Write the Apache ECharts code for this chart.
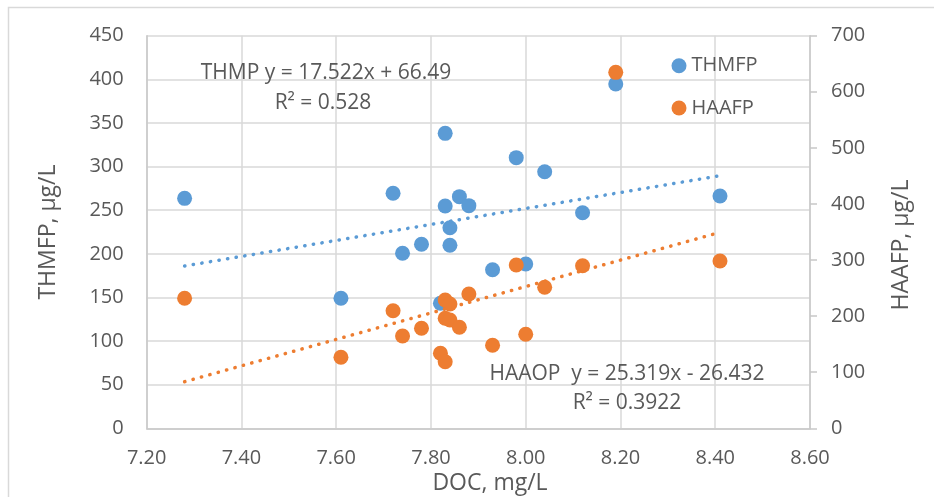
<!DOCTYPE html>
<html>
<head>
<meta charset="utf-8">
<script src="https://cdn.jsdelivr.net/npm/echarts@6/dist/echarts.min.js"></script>
<style>html,body{margin:0;padding:0;background:#fff;}#c{width:934px;height:497px;}</style>
</head>
<body>
<div id="c"></div>
<script>
// DOC (mg/L) values of THMFP samples and their THMFP (µg/L)
const thmX = [7.28,7.72,7.83,7.83,7.86,7.88,7.84,7.78,7.84,7.74,7.61,7.82,8.19,7.98,8.04,8.41,8.12,7.93,8.00];
const thmY = [263.6,269.4,338.1,254.8,265.5,255.2,229.9,210.9,209.8,200.6,149,143.3,394.7,310.2,294.1,266.3,247.1,181.8,188.3];
// DOC values of HAAFP samples and their HAAFP (µg/L)
const haaX = [7.28,7.72,7.74,7.78,7.61,7.83,7.84,7.83,7.84,7.86,7.82,7.83,7.88,8.19,7.98,8.12,8.41,8.04,7.93,8.00];
const haaY = [231.8,209.7,164.6,178.3,126.6,228.7,221.6,196.1,193.1,180.1,133.7,118.7,239.4,634.7,291.1,289.9,298.3,251.4,148,167.6];
// trend line end points
const thmTrendX = [7.28, 8.41];
const thmTrendY = [186, 289.5];
const haaTrendX = [7.28, 8.41];
const haaTrendY = [83.1, 349.4];
const seriesNames = ['THMFP', 'HAAFP'];
const thmEq = ['THMP y = 17.522x + 66.49', 'R² = 0.528'];
const haaEq = ['HAAOP  y = 25.319x - 26.432', 'R² = 0.3922'];
const axisNames = ['DOC, mg/L', 'THMFP, μg/L', 'HAAFP, μg/L'];

const zip = (a, b) => a.map((v, i) => [v, b[i]]);
const BLUE = '#5B9BD5', ORANGE = '#ED7D31', TXT = '#595959', FONT = 'Open Sans';
const chart = echarts.init(document.getElementById('c'));
const txt = (t, x, y, size, rot) => ({
  type: 'text', x: x, y: y, rotation: rot || 0, z: 100,
  style: { text: t, fill: TXT, font: size + 'px "' + FONT + '"', textAlign: 'center', textVerticalAlign: 'middle' }
});
chart.setOption({
  animation: false,
  backgroundColor: '#fff',
  grid: { left: 146.7, right: 124, top: 35.7, bottom: 68.7 },
  legend: {
    data: seriesNames, orient: 'vertical', left: 671.5, top: 55.7, padding: 0,
    itemWidth: 15, itemHeight: 15, itemGap: 22.3,
    icon: 'circle',
    textStyle: { color: TXT, fontSize: 20, fontFamily: FONT, lineHeight: 20, padding: [0, 0, 0, 0] }
  },
  xAxis: {
    type: 'value', min: 7.2, max: 8.6, interval: 0.2,
    axisLine: { show: true, lineStyle: { color: '#c8c8c8', width: 1.5 } },
    axisTick: { show: false },
    splitLine: { show: true, lineStyle: { color: '#d9d9d9', width: 1.5 } },
    axisLabel: { color: TXT, fontSize: 20, fontFamily: FONT, margin: 20, formatter: v => v.toFixed(2) }
  },
  yAxis: [{
    type: 'value', min: 0, max: 450, interval: 50, position: 'left',
    axisLine: { show: true, lineStyle: { color: '#c8c8c8', width: 1.5 } },
    axisTick: { show: false },
    splitLine: { show: true, lineStyle: { color: '#d9d9d9', width: 1.5 } },
    axisLabel: { color: TXT, fontSize: 20, fontFamily: FONT, margin: 23 }
  }, {
    type: 'value', min: 0, max: 700, interval: 100, position: 'right',
    axisLine: { show: true, lineStyle: { color: '#c8c8c8', width: 1.5 } },
    axisTick: { show: true, length: 7, lineStyle: { color: '#c8c8c8', width: 1.5 } },
    splitLine: { show: false },
    axisLabel: { color: TXT, fontSize: 20, fontFamily: FONT, margin: 21 }
  }],
  series: [{
    name: seriesNames[0], type: 'scatter', yAxisIndex: 0, symbolSize: 15,
    itemStyle: { color: BLUE, opacity: 1 }, data: zip(thmX, thmY), z: 3
  }, {
    name: seriesNames[1], type: 'scatter', yAxisIndex: 1, symbolSize: 15,
    itemStyle: { color: ORANGE, opacity: 1 }, data: zip(haaX, haaY), z: 4
  }, {
    name: 'thmTrend', type: 'line', yAxisIndex: 0, showSymbol: false, symbol: 'none', z: 5,
    lineStyle: { color: BLUE, width: 3.5, type: [0.3, 8.4], cap: 'round' },
    data: zip(thmTrendX, thmTrendY), silent: true
  }, {
    name: 'haaTrend', type: 'line', yAxisIndex: 1, showSymbol: false, symbol: 'none', z: 5,
    lineStyle: { color: ORANGE, width: 3.5, type: [0.3, 8.4], cap: 'round' },
    data: zip(haaTrendX, haaTrendY), silent: true
  }],
  graphic: [
    { type: 'rect', shape: { x: 8.5, y: 7.5, width: 1000, height: 1000 }, style: { fill: null, stroke: '#d9d9d9', lineWidth: 1.5 }, z: 0, silent: true },
    txt(thmEq[0], 326, 73, 21),
    txt(thmEq[1], 323, 103, 21),
    txt(haaEq[0], 627, 374, 21),
    txt(haaEq[1], 627, 403, 21),
    txt(axisNames[0], 490, 483, 23),
    txt(axisNames[1], 48, 232, 23, Math.PI / 2),
    txt(axisNames[2], 901, 245, 23, Math.PI / 2)
  ]
});
</script>
</body>
</html>
